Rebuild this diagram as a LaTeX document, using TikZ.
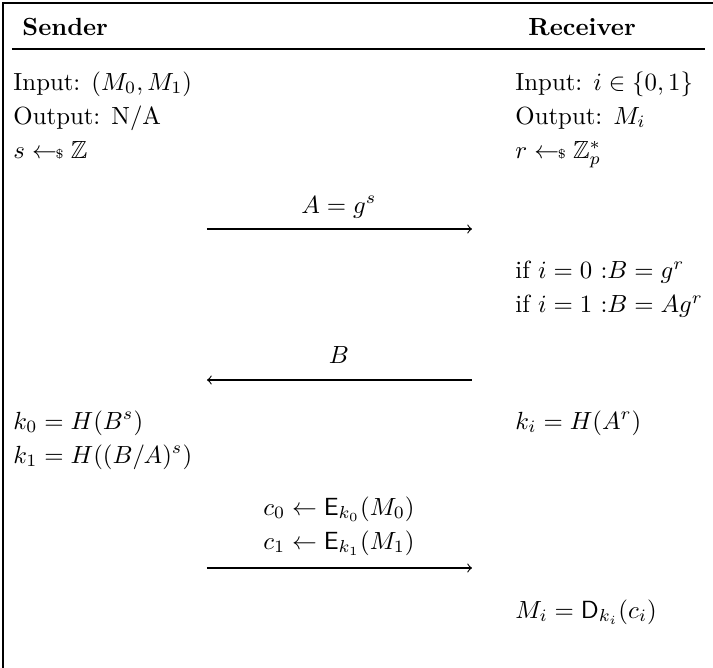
\documentclass[tikz,border=0pt]{standalone}
\usepackage{amsmath,amssymb}
\newcommand{\smp}{\mathrel{\leftarrow\!\!\mbox{\tiny\$}}}
\begin{document}
\begin{tikzpicture}[x=0.403pt,y=-0.403pt,
  lab/.style={inner sep=0pt,anchor=base west,font=\fontsize{10}{12}\selectfont},
  mid/.style={inner sep=0pt,anchor=base,font=\fontsize{10}{12}\selectfont},
  msg/.style={->,line width=0.45pt},
  frame/.style={line width=0.6pt}]
\useasboundingbox (0,0) rectangle (713,668);
\coordinate (tl) at (3,3);
\coordinate (tr) at (713,3);
\coordinate (bl) at (3,668);
\draw[frame] (tr) -- (tl) -- (bl);
% header
\node[lab] (snd) at (22,35) {\textbf{Sender}};
\node[lab] (rcv) at (528,35) {\textbf{Receiver}};
\coordinate (hl) at (12,49);
\coordinate (hr) at (705,49);
\draw[line width=0.5pt] (hl) -- (hr);
% left column
\node[lab] (in0) at (13,90) {Input: $(M_0,M_1)$};
\node[lab] (out0) at (13,124) {Output: N/A};
\node[lab] (s) at (13,158) {$s \smp \mathbb{Z}$};
% right column
\node[lab] (in1) at (515,90) {Input: $i\in\{0,1\}$};
\node[lab] (out1) at (515,124) {Output: $M_i$};
\node[lab] (r) at (515,158) {$r \smp \mathbb{Z}_p^*$};
% message 1
\node[mid] (m1) at (339,213) {$A=g^s$};
\coordinate (a1l) at (207,229);
\coordinate (a1r) at (472,229);
\draw[msg] (a1l) -- (a1r);
\node[lab] (if0) at (515,278) {if $i=0$ :$B=g^r$};
\node[lab] (if1) at (515,312) {if $i=1$ :$B=Ag^r$};
% message 2
\node[mid] (m2) at (339,363) {$B$};
\coordinate (a2l) at (207,380);
\coordinate (a2r) at (472,380);
\draw[msg] (a2r) -- (a2l);
\node[lab] (k0) at (13,429) {$k_0=H(B^s)$};
\node[lab] (k1) at (13,463) {$k_1=H((B/A)^s)$};
\node[lab] (ki) at (515,429) {$k_i=H(A^r)$};
% message 3
\node[mid] (c0) at (339,515) {$c_0\leftarrow \mathsf{E}_{k_0}(M_0)$};
\node[mid] (c1) at (339,549) {$c_1\leftarrow \mathsf{E}_{k_1}(M_1)$};
\coordinate (a3l) at (207,568);
\coordinate (a3r) at (472,568);
\draw[msg] (a3l) -- (a3r);
\node[lab] (mi) at (515,618) {$M_i=\mathsf{D}_{k_i}(c_i)$};
\end{tikzpicture}
\end{document}
